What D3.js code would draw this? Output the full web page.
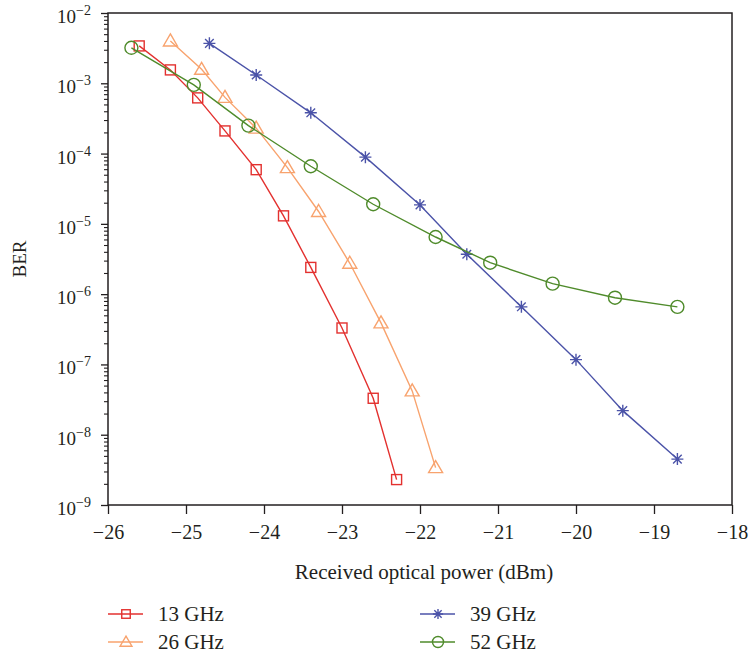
<!DOCTYPE html>
<html>
<head>
<meta charset="utf-8">
<script src="https://cdn.jsdelivr.net/npm/d3@7"></script>
<style>
  body { margin: 0; background: #fff; }
  text { font-family: "Liberation Serif", "DejaVu Serif", serif; fill: #231f20; }
</style>
</head>
<body>
<div id="wrapper"></div>
<script>
// data
const power13 = [-25.6, -25.2, -24.85, -24.5, -24.1, -23.75, -23.4, -23.0, -22.6, -22.3];
const ber13 = [3.4e-3, 1.55e-3, 6.2e-4, 2.1e-4, 5.9e-5, 1.3e-5, 2.4e-6, 3.3e-7, 3.3e-8, 2.3e-9];

const power26 = [-25.2, -24.8, -24.5, -24.1, -23.7, -23.3, -22.9, -22.5, -22.1, -21.8];
const ber26 = [4.0e-3, 1.58e-3, 6.3e-4, 2.3e-4, 6.3e-5, 1.5e-5, 2.75e-6, 3.9e-7, 4.2e-8, 3.4e-9];

const power39 = [-24.7, -24.1, -23.4, -22.7, -22.0, -21.4, -20.7, -20.0, -19.4, -18.7];
const ber39 = [3.7e-3, 1.31e-3, 3.8e-4, 8.9e-5, 1.86e-5, 3.7e-6, 6.6e-7, 1.17e-7, 2.2e-8, 4.5e-9];

const power52 = [-25.7, -24.9, -24.2, -23.4, -22.6, -21.8, -21.1, -20.3, -19.5, -18.7];
const ber52 = [3.2e-3, 9.5e-4, 2.5e-4, 6.6e-5, 1.9e-5, 6.5e-6, 2.8e-6, 1.41e-6, 8.9e-7, 6.6e-7];

const seriesNames = ["13 GHz", "26 GHz", "39 GHz", "52 GHz"];
const xTicks = [-26, -25, -24, -23, -22, -21, -20, -19, -18];
const yExponents = [-2, -3, -4, -5, -6, -7, -8, -9];

const series = [
    {name: seriesNames[0], x: power13, y: ber13, color: "#e3312f", marker: "square"},
    {name: seriesNames[1], x: power26, y: ber26, color: "#f8a36e", marker: "triangle"},
    {name: seriesNames[2], x: power39, y: ber39, color: "#4b53a8", marker: "star"},
    {name: seriesNames[3], x: power52, y: ber52, color: "#4f8b2b", marker: "circle"}
];

const dimension = {
    width: 749,
    height: 656,
    margin: {top: 13, left: 108, bottom: 151, right: 17}
};
dimension.boundedWidth = dimension.width - dimension.margin.left - dimension.margin.right;
dimension.boundedHeight = dimension.height - dimension.margin.top - dimension.margin.bottom;

const svg = d3.select("#wrapper").append("svg")
    .attr("width", dimension.width)
    .attr("height", dimension.height);

const bounded = svg.append("g")
    .attr("transform", `translate(${dimension.margin.left},${dimension.margin.top})`);

const xScaler = d3.scaleLinear()
    .domain([-26, -18])
    .range([0, dimension.boundedWidth]);

const yScaler = d3.scaleLog()
    .domain([1e-9, 1e-2])
    .range([dimension.boundedHeight, 0]);

// frame
bounded.append("rect")
    .attr("width", dimension.boundedWidth)
    .attr("height", dimension.boundedHeight)
    .attr("fill", "none")
    .attr("stroke", "#231f20")
    .attr("stroke-width", 1.5);

// x axis
const xAxis = d3.axisBottom(xScaler)
    .tickValues(xTicks)
    .tickSize(9)
    .tickPadding(11)
    .tickFormat(d => d3.format("d")(d).replace("-", "\u2212"));

const xg = bounded.append("g")
    .attr("transform", `translate(0,${dimension.boundedHeight})`)
    .call(xAxis);
xg.select(".domain").remove();
xg.selectAll(".tick line").attr("stroke", "#231f20").attr("stroke-width", 1.3);
xg.selectAll(".tick text").style("font-size", "20px")
    .style("font-family", "Liberation Serif, serif").attr("fill", "#231f20");

// y axis, minor ticks
const minorVals = [];
yExponents.slice(0, -1).forEach(e => {
    for (let m = 2; m <= 9; m++) minorVals.push(m * Math.pow(10, e - 1));
});
const yMinor = d3.axisLeft(yScaler)
    .tickValues(minorVals)
    .tickSize(4)
    .tickFormat("");
const ymg = bounded.append("g").call(yMinor);
ymg.select(".domain").remove();
ymg.selectAll(".tick line").attr("stroke", "#231f20").attr("stroke-width", 1.1);

const yAxis = d3.axisLeft(yScaler)
    .tickValues(yExponents.map(e => Math.pow(10, e)))
    .tickSize(7)
    .tickFormat("");
const yg = bounded.append("g").call(yAxis);
yg.select(".domain").remove();
yg.selectAll(".tick line").attr("stroke", "#231f20").attr("stroke-width", 1.3);

// y tick labels 10^n
yExponents.forEach(e => {
    const t = bounded.append("text")
        .attr("x", -17)
        .attr("y", yScaler(Math.pow(10, e)) + 10)
        .attr("text-anchor", "end")
        .style("font-size", "19px");
    t.append("tspan").text("10");
    t.append("tspan")
        .attr("dy", -8)
        .style("font-size", "14px")
        .text("\u2212" + Math.abs(e));
});

// axis titles
svg.append("text")
    .attr("x", 424)
    .attr("y", 579)
    .attr("text-anchor", "middle")
    .style("font-size", "21px")
    .text("Received optical power (dBm)");

svg.append("text")
    .attr("transform", `translate(26,259) rotate(-90)`)
    .attr("text-anchor", "middle")
    .style("font-size", "19px")
    .text("BER");

// markers
function drawMarker(g, type, color, k) {
    if (type === "square") {
        g.append("rect").attr("x", -5 * k).attr("y", -5 * k).attr("width", 10 * k).attr("height", 10 * k)
            .attr("fill", "none").attr("stroke", color).attr("stroke-width", 1.4);
    } else if (type === "triangle") {
        g.append("path").attr("d", `M0,${-7 * k} L${7 * k},${5 * k} L${-7 * k},${5 * k} Z`)
            .attr("fill", "none").attr("stroke", color).attr("stroke-width", 1.4);
    } else if (type === "circle") {
        g.append("circle").attr("r", 6.5 * k)
            .attr("fill", "none").attr("stroke", color).attr("stroke-width", 1.4);
    } else {
        const a = 6 * k, b = 4.3 * k;
        g.append("path")
            .attr("d", `M${-a},0 L${a},0 M0,${-a} L0,${a} M${-b},${-b} L${b},${b} M${-b},${b} L${b},${-b}`)
            .attr("fill", "none").attr("stroke", color).attr("stroke-width", 1.4);
    }
}

const lineGenerator = d3.line()
    .x(d => xScaler(d[0]))
    .y(d => yScaler(d[1]));

series.forEach(s => {
    const pts = s.x.map((v, i) => [v, s.y[i]]);
    bounded.append("path")
        .attr("d", lineGenerator(pts))
        .attr("fill", "none")
        .attr("stroke", s.color)
        .attr("stroke-width", 1.4);
    pts.forEach(p => {
        const g = bounded.append("g")
            .attr("transform", `translate(${xScaler(p[0])},${yScaler(p[1])})`);
        drawMarker(g, s.marker, s.color, 1);
    });
});

// legend
const legendPos = [[108, 614], [108, 642], [420, 614], [420, 642]];
series.forEach((s, i) => {
    const [lx, ly] = legendPos[i];
    const g = svg.append("g").attr("transform", `translate(${lx},${ly})`);
    g.append("line").attr("x1", 0).attr("x2", 35).attr("y1", 0).attr("y2", 0)
        .attr("stroke", s.color).attr("stroke-width", 1.4);
    const m = g.append("g").attr("transform", "translate(18,0)");
    drawMarker(m, s.marker, s.color, 0.85);
    g.append("text")
        .attr("x", 50)
        .attr("y", 7)
        .style("font-size", "21px")
        .text(s.name);
});
</script>
</body>
</html>
